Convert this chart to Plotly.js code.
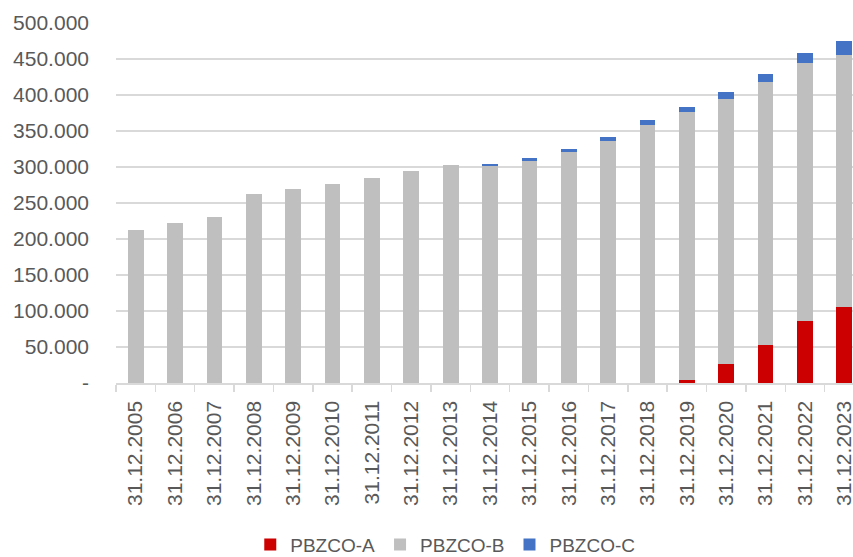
<!DOCTYPE html>
<html>
<head>
<meta charset="utf-8">
<script src="https://cdn.plot.ly/plotly-3.0.1.min.js"></script>
<style>html,body{margin:0;padding:0;background:#fff;}#chart{width:853px;height:557px;}</style>
</head>
<body>
<div id="chart"></div>
<script>
const categories = ["31.12.2005","31.12.2006","31.12.2007","31.12.2008","31.12.2009","31.12.2010","31.12.2011","31.12.2012","31.12.2013","31.12.2014","31.12.2015","31.12.2016","31.12.2017","31.12.2018","31.12.2019","31.12.2020","31.12.2021","31.12.2022","31.12.2023"];
const seriesA = [0,0,0,0,0,0,0,0,0,0,0,0,0,0,4000,26000,53000,86000,105000];
const seriesB = [212000,222000,231000,262000,270000,277000,285000,294000,303000,301000,309000,321000,336000,359000,373000,369000,365000,358000,351000];
const seriesC = [0,0,0,0,0,0,0,0,0,3000,3000,4000,5000,6000,6000,8600,11000,14000,19000];
const yTickVals = [0,50000,100000,150000,200000,250000,300000,350000,400000,450000,500000];
const yTickText = ["-","50.000","100.000","150.000","200.000","250.000","300.000","350.000","400.000","450.000","500.000"];
const seriesNames = ["PBZCO-A","PBZCO-B","PBZCO-C"];
const colors = ["#CC0000","#BFBFBF","#4472C4"];

const font = "Liberation Sans, Arial, sans-serif";
const traces = [seriesA, seriesB, seriesC].map((vals, i) => ({
  type: "bar",
  x: categories,
  y: vals,
  name: seriesNames[i],
  marker: {color: colors[i], line: {width: 0}},
  hoverinfo: "skip"
}));

const layout = {
  width: 853, height: 557,
  margin: {l: 116, r: 0, t: 23, b: 174},
  barmode: "stack",
  bargap: 0.6,
  paper_bgcolor: "#fff",
  plot_bgcolor: "#fff",
  showlegend: true,
  legend: {
    orientation: "h",
    xref: "container", yref: "container",
    x: 0.522, xanchor: "center",
    y: 0.022, yanchor: "middle",
    traceorder: "normal",
    font: {family: font, size: 19, color: "#595959"}
  },
  xaxis: {
    type: "category",
    range: [-0.5, 18.22],
    tickangle: -90,
    ticks: "outside",
    tickson: "boundaries",
    ticklen: 7,
    tickcolor: "#d9d9d9",
    tickwidth: 1.5,
    showline: true,
    linecolor: "#d9d9d9",
    linewidth: 1.5,
    showgrid: false,
    ticklabelstandoff: 8,
    tickfont: {family: font, size: 21, color: "#595959"}
  },
  yaxis: {
    range: [0, 500000],
    tickvals: yTickVals,
    ticktext: yTickText,
    showgrid: true,
    gridcolor: "#d9d9d9",
    gridwidth: 1.5,
    zeroline: false,
    showline: false,
    ticks: "",
    ticklabelstandoff: 26,
    tickfont: {family: font, size: 21, color: "#595959"}
  }
};

Plotly.newPlot("chart", traces, layout, {displayModeBar: false, staticPlot: true});
</script>
</body>
</html>
